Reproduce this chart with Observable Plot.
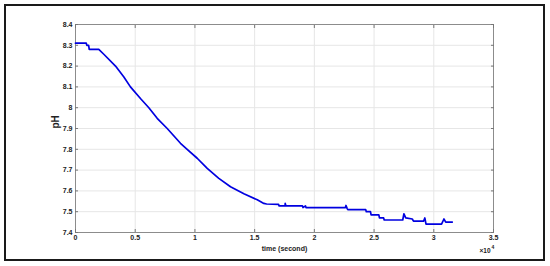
<!DOCTYPE html>
<html>
<head>
<meta charset="utf-8">
<script src="https://cdn.jsdelivr.net/npm/d3@7"></script>
<script src="https://cdn.jsdelivr.net/npm/@observablehq/plot@0.6"></script>
<style>
  body { margin: 0; background: #fff; }
  #wrap { position: relative; width: 550px; height: 266px; }
  #border { position: absolute; left: 4px; top: 4px; width: 537px; height: 253px; border: 2px solid #1a1a1a; }
  #chart { position: absolute; left: 0; top: 0; }
</style>
</head>
<body>
<div id="wrap"><div id="border"></div><div id="chart"></div></div>
<script>
// time (seconds) and pH readings
const times = [0, 900, 950, 1100, 1150, 1950, 2370, 3350, 4050, 4600, 5440, 6140, 6840, 7680, 8790, 9350, 10190, 11030, 12000, 12980, 14100, 15220, 15770, 16000, 17000, 17050, 17550, 17560, 17620, 19000, 19050, 19260, 19300, 22600, 22650, 22750, 22800, 24300, 24350, 24700, 24750, 25400, 25450, 25800, 25850, 27400, 27500, 27650, 28200, 28300, 29150, 29250, 29350, 30650, 30850, 31000, 31550];
const phValues = [8.31, 8.31, 8.30, 8.30, 8.28, 8.28, 8.257, 8.20, 8.148, 8.10, 8.044, 8.00, 7.949, 7.90, 7.829, 7.80, 7.757, 7.708, 7.66, 7.62, 7.586, 7.557, 7.54, 7.537, 7.535, 7.528, 7.528, 7.54, 7.528, 7.528, 7.52, 7.528, 7.52, 7.52, 7.53, 7.515, 7.51, 7.51, 7.50, 7.50, 7.485, 7.485, 7.47, 7.47, 7.46, 7.46, 7.49, 7.47, 7.465, 7.455, 7.455, 7.47, 7.44, 7.44, 7.465, 7.45, 7.45];
const xTicks = [0, 5000, 10000, 15000, 20000, 25000, 30000, 35000];
const yTicks = [7.4, 7.5, 7.6, 7.7, 7.8, 7.9, 8.0, 8.1, 8.2, 8.3, 8.4];
const xLabel = "time (second)";
const yLabel = "pH";
const xExpBase = "×10";
const xExpPower = "4";

const data = times.map((t, i) => ({t, ph: phValues[i]}));

const chart = Plot.plot({
  width: 550,
  height: 266,
  marginLeft: 75,
  marginRight: 57,
  marginTop: 24,
  marginBottom: 34,
  style: {fontFamily: "'Liberation Sans', Arial, sans-serif", fontSize: "7px", fontWeight: "bold", background: "transparent", color: "#222"},
  x: {domain: [0, 35000]},
  y: {domain: [7.4, 8.4]},
  marks: [
    Plot.gridX(xTicks, {stroke: "#e6e6e6", strokeOpacity: 1}),
    Plot.gridY(yTicks, {stroke: "#e6e6e6", strokeOpacity: 1}),
    Plot.frame({stroke: "#777", strokeWidth: 0.8}),
    Plot.axisX(xTicks, {anchor: "bottom", tickSize: -3, tickPadding: 6, stroke: "#777", tickFormat: d => String(d / 1e4), label: null}),
    Plot.axisX(xTicks, {anchor: "top", tickSize: -3, stroke: "#777", text: null, label: null}),
    Plot.axisY(yTicks, {anchor: "left", tickSize: -3, tickPadding: 6, stroke: "#777", tickFormat: d => String(+d.toFixed(1)), label: null}),
    Plot.axisY(yTicks, {anchor: "right", tickSize: -3, stroke: "#777", text: null, label: null}),
    Plot.line(data, {x: "t", y: "ph", stroke: "#0000e0", strokeWidth: 1.7}),
    Plot.text([yLabel], {frameAnchor: "left", dx: -20, rotate: -90, lineAnchor: "middle", fontSize: 10, fontWeight: "bold", fill: "#222"}),
    Plot.text([xLabel], {frameAnchor: "bottom", dy: 16, lineAnchor: "middle", fontSize: 7, fontWeight: "bold", fill: "#222"}),
    Plot.text([xExpBase], {frameAnchor: "bottom-right", dx: -3, dy: 18, textAnchor: "end", lineAnchor: "middle", fontSize: 6.5, fontWeight: "bold", fill: "#222"}),
    Plot.text([xExpPower], {frameAnchor: "bottom-right", dx: -2, dy: 15, textAnchor: "start", lineAnchor: "middle", fontSize: 5, fontWeight: "bold", fill: "#222"})
  ]
});
document.getElementById("chart").appendChild(chart);
</script>
</body>
</html>
